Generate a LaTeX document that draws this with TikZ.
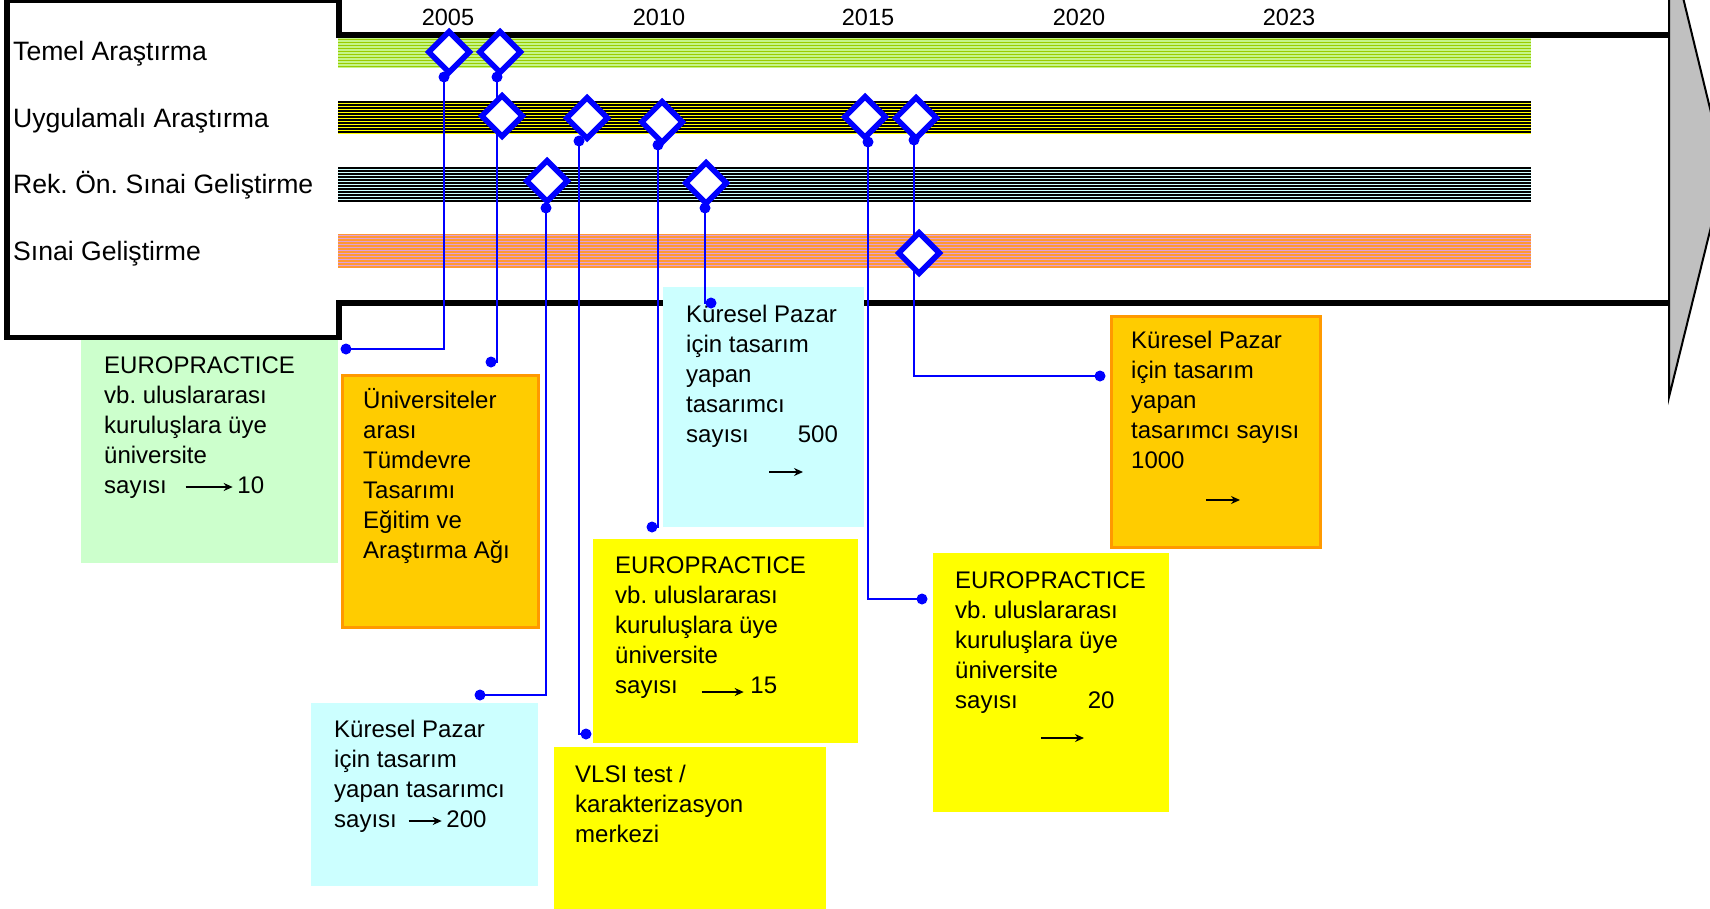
\documentclass[tikz,border=0pt]{standalone}
\usepackage{fontspec}
\setmainfont{Liberation Sans}
\usetikzlibrary{shapes.geometric,arrows.meta}
\frenchspacing

\definecolor{msblue}{HTML}{0000FF}
\definecolor{notegreen}{HTML}{CCFFCC}
\definecolor{notecyan}{HTML}{CCFFFF}
\definecolor{noteyellow}{HTML}{FFFF00}
\definecolor{noteorange}{HTML}{FFCC00}
\definecolor{orangeedge}{HTML}{FF9900}
\definecolor{arrowgray}{HTML}{C0C0C0}
\definecolor{greenA}{HTML}{C4F58A}
\definecolor{greenB}{HTML}{99CC00}
\definecolor{cyanA}{HTML}{CCFFFF}
\definecolor{orangeA}{HTML}{FF9933}
\definecolor{plumB}{HTML}{DDA0DD}

\tikzset{
  frameline/.style={line width=5.5pt, black},
  milestone/.style={diamond, draw=msblue, fill=white, line width=5.5pt,
    minimum width=43pt, minimum height=43pt, inner sep=0pt},
  link/.style={draw=msblue, line width=2pt},
  linkdot/.style={fill=msblue},
  notebox/.style={rectangle, anchor=north west, inner sep=0pt, outer sep=0pt},
  orangebox/.style={notebox, fill=noteorange, draw=orangeedge, line width=3pt},
  notetext/.style={anchor=base west, inner sep=0pt, font=\fontsize{24}{30}\selectfont},
  rowlabel/.style={anchor=base west, inner sep=0pt, font=\fontsize{26.6}{30}\selectfont},
  yearlabel/.style={anchor=base, inner sep=0pt, font=\fontsize{23.5}{28}\selectfont},
}

% small arrow set inside the note texts: length, raise
\newcommand\notearrow[2]{\raisebox{#2pt}{\tikz[baseline={(0pt,0pt)}]\draw[line width=1.6pt,-{Stealth[length=9pt,width=8pt]}] (0pt,0pt)--(#1pt,0pt);}}
\newcommand\notelines[1]{\parbox[t]{300pt}{\raggedright #1}}

\begin{document}
\begin{tikzpicture}[x=1pt,y=-1pt]
\useasboundingbox (0,0) rectangle (1710,908);
\clip (0,0) rectangle (1710,908);
\fill[white] (0,0) rectangle (1710,908);

% striped bands of the four activity rows
\fill[greenA] (338,38) rectangle (1531,68);
\foreach \k in {0,...,9} \draw[greenB, line width=1.5pt] (338,39.5+3*\k) -- (1531,39.5+3*\k);
\fill[noteyellow] (338,101) rectangle (1531,134);
\foreach \k in {0,...,10} \draw[black, line width=1.5pt] (338,102+3*\k) -- (1531,102+3*\k);
\fill[cyanA] (338,167) rectangle (1531,202);
\foreach \k in {0,...,11} \draw[black, line width=1.5pt] (338,168+3*\k) -- (1531,168+3*\k);
\fill[orangeA] (338,234) rectangle (1531,268);
\foreach \k in {0,...,10} \draw[plumB, line width=1.5pt] (338,235.5+3*\k) -- (1531,235.5+3*\k);

% frame: label panel and the two rails
\draw[frameline] (1669,35) -- (339,35) -- (339,0.5) -- (7,0.5) -- (7,337.5) -- (339,337.5) -- (339,303) -- (1669,303);

% big grey arrowhead on the right
\draw[fill=arrowgray, draw=black, line width=2pt] (1669,-60) -- (1725,170) -- (1669,397) -- cycle;

% row labels and years
\node[rowlabel] (lt) at (13,60) {Temel Araştırma};
\node[rowlabel] (lu) at (13,127) {Uygulamalı Araştırma};
\node[rowlabel] (lr) at (13,193) {Rek. Ön. Sınai Geliştirme};
\node[rowlabel] (ls) at (13,260) {Sınai Geliştirme};
\node[yearlabel] (y05) at (448,25) {2005};
\node[yearlabel] (y10) at (659,25) {2010};
\node[yearlabel] (y15) at (868,25) {2015};
\node[yearlabel] (y20) at (1079,25) {2020};
\node[yearlabel] (y23) at (1289,25) {2023};

% note boxes
\node[notebox, fill=notegreen, minimum width=257pt, minimum height=223pt] (bA) at (81,340) {};
\node[notetext] (tA) at (104,373) {\notelines{EUROPRACTICE\\ vb. uluslararası\\ kuruluşlara üye\\ üniversite\\ sayısı\hspace*{18pt}\notearrow{47}{6}\hspace*{4pt}10}};

\node[orangebox, minimum width=196pt, minimum height=252pt] (bB) at (342.5,375.5) {};
\node[notetext] (tB) at (363,408) {\notelines{Üniversiteler\\ arası\\ Tümdevre\\ Tasarımı\\ Eğitim ve\\ Araştırma Ağı}};

\node[notebox, fill=notecyan, minimum width=227pt, minimum height=183pt] (bC) at (311,703) {};
\node[notetext] (tC) at (334,737) {\notelines{Küresel Pazar\\ için tasarım\\ yapan tasarımcı\\ sayısı\hspace*{11pt}\notearrow{33}{6}\hspace*{4pt}200}};

\node[notebox, fill=noteyellow, minimum width=272pt, minimum height=170pt] (bD) at (554,747) {};
\node[notetext] (tD) at (575,782) {\notelines{VLSI test /\\ karakterizasyon\\ merkezi}};

\node[notebox, fill=noteyellow, minimum width=265pt, minimum height=204pt] (bE) at (593,539) {};
\node[notetext] (tE) at (615,573) {\notelines{EUROPRACTICE\\ vb. uluslararası\\ kuruluşlara üye\\ üniversite\\ sayısı\hspace*{23pt}\notearrow{42}{1}\hspace*{6pt}15}};

\node[notebox, fill=notecyan, minimum width=201pt, minimum height=240pt] (bF) at (663,287) {};
\node[notetext] (tF) at (686,322) {\notelines{Küresel Pazar\\ için tasarım\\ yapan\\ tasarımcı\\ sayısı\hspace*{49pt}500\\ \hspace*{82pt}\notearrow{34}{0}}};

\node[notebox, fill=noteyellow, minimum width=236pt, minimum height=259pt] (bG) at (933,553) {};
\node[notetext] (tG) at (955,588) {\notelines{EUROPRACTICE\\ vb. uluslararası\\ kuruluşlara üye\\ üniversite\\ sayısı\hspace*{70pt}20\\ \hspace*{85pt}\notearrow{43}{0}}};

\node[orangebox, minimum width=209pt, minimum height=231pt] (bH) at (1111.5,316.5) {};
\node[notetext] (tH) at (1131,348) {\notelines{Küresel Pazar\\ için tasarım\\ yapan\\ tasarımcı sayısı\\ 1000\\ \hspace*{74pt}\notearrow{34}{-2}}};

% connector end points
\coordinate (p1) at (444,77);   \coordinate (q1) at (346,349);
\coordinate (p2) at (497,77);   \coordinate (q2) at (491,362);
\coordinate (p3) at (546,208);  \coordinate (q3) at (480,695);
\coordinate (p4) at (579,141);  \coordinate (q4) at (586,734);
\coordinate (p5) at (658,145);  \coordinate (q5) at (652,527);
\coordinate (p6) at (705,208);  \coordinate (q6) at (711,303);
\coordinate (p7) at (868,142);  \coordinate (q7) at (922,599);
\coordinate (p8) at (914,140);  \coordinate (q8) at (1100,376);

\foreach \i in {1,...,8} \draw[link] (p\i) |- (q\i);

% milestones
\node[milestone] (d1) at (449,52) {};
\node[milestone] (d2) at (500,52) {};
\node[milestone] (d3) at (502,116) {};
\node[milestone] (d4) at (587,118) {};
\node[milestone] (d5) at (662,122) {};
\node[milestone] (d6) at (547,181) {};
\node[milestone] (d7) at (706,183) {};
\node[milestone] (d8) at (865,117) {};
\node[milestone] (d9) at (916,118) {};
\node[milestone] (d10) at (919,253) {};

\foreach \i in {1,...,8} {
  \fill[linkdot] (p\i) circle (5.5);
  \fill[linkdot] (q\i) circle (5.5);
}
\end{tikzpicture}
\end{document}
